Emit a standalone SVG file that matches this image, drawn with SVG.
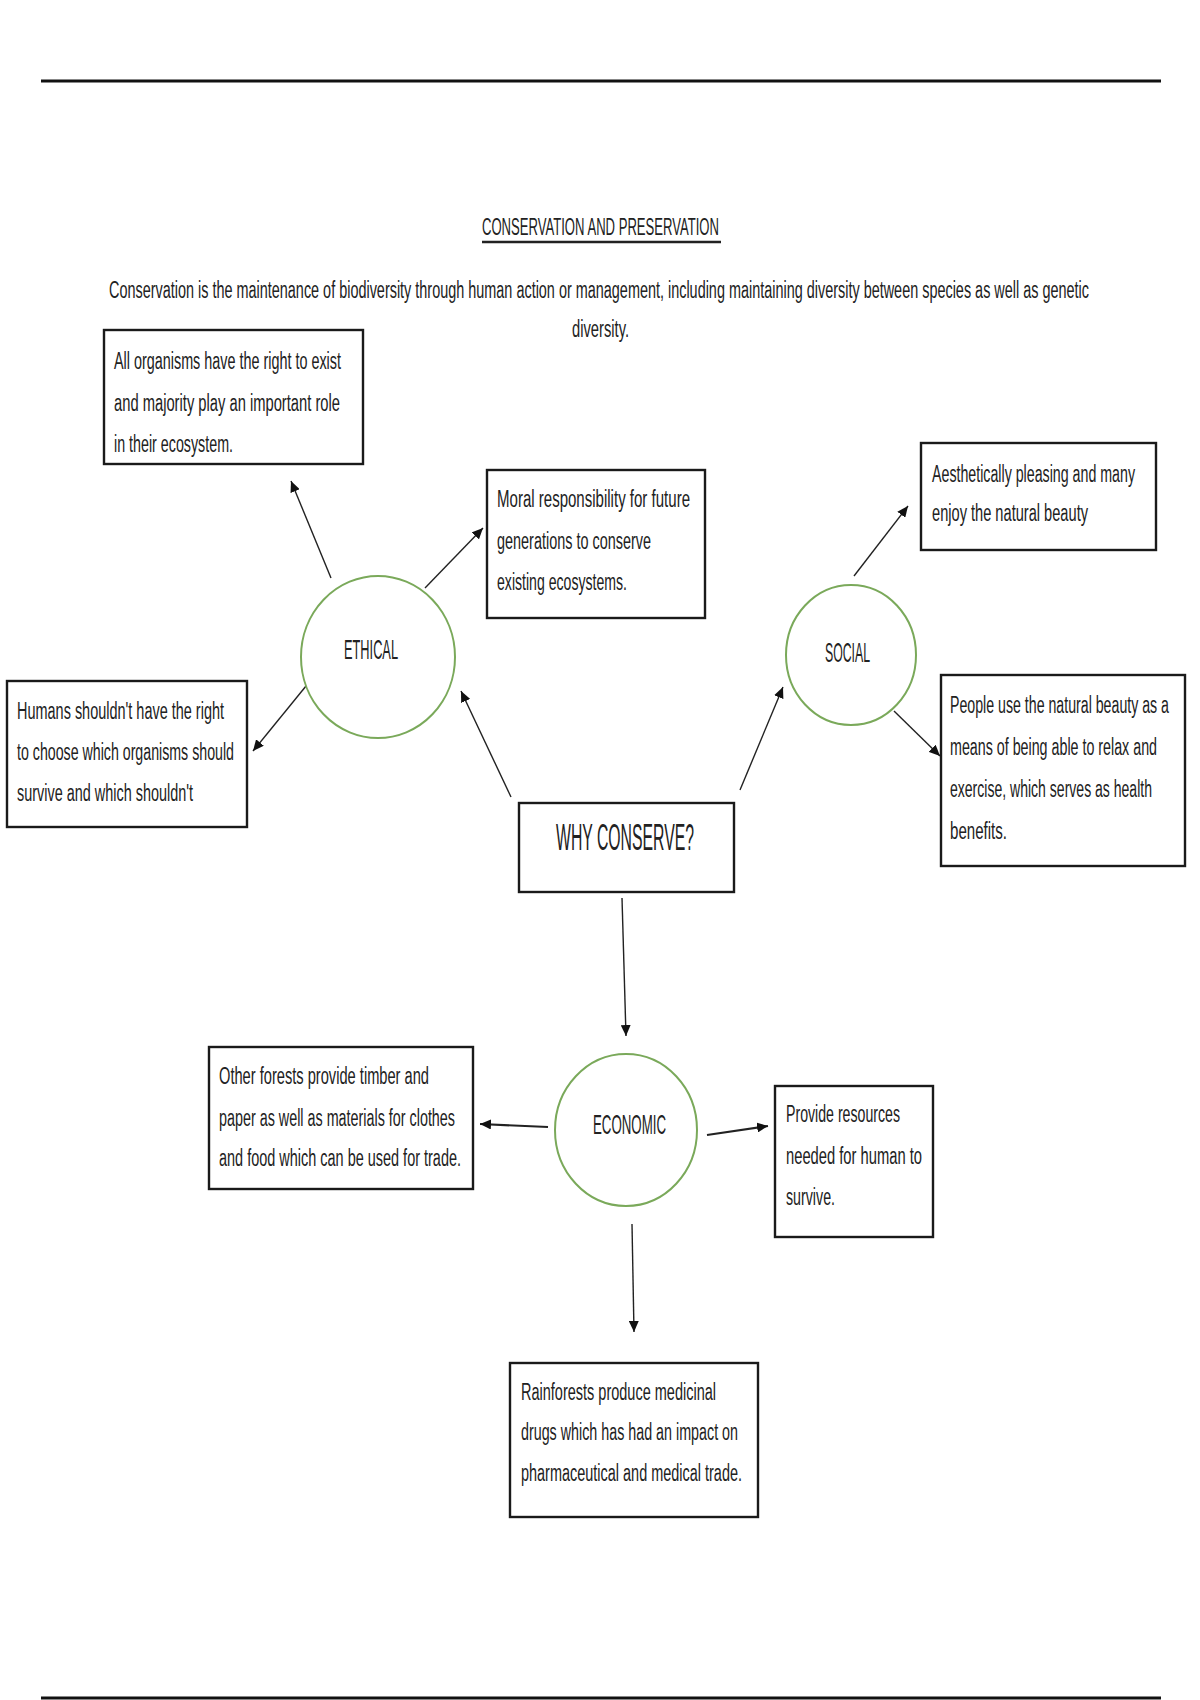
<svg xmlns="http://www.w3.org/2000/svg" width="1200" height="1700" viewBox="0 0 1200 1700">
<defs>
<style>
.t{font-family:"Liberation Sans",Arial,sans-serif;font-size:13.2px;fill:#222}
.lbl{font-size:15.5px}
.big{font-size:20px}
.box{fill:#fff;stroke:#1a1a1a;stroke-width:2.4}
.circ{fill:#fff;stroke:#7aa95a;stroke-width:2}
.rule{stroke:#111;stroke-width:3}
.con{stroke:#222;stroke-width:1.4;fill:none;marker-end:url(#ah)}
.thick{stroke-width:2.2}
</style>
<marker id="ah" markerUnits="userSpaceOnUse" markerWidth="11" markerHeight="10" refX="11" refY="5" orient="auto">
<path d="M0,0 L11,5 L0,10 z" fill="#111"/>
</marker>
</defs>
<rect width="1200" height="1700" fill="#fff"/>
<line class="rule" x1="41" y1="81" x2="1161" y2="81"/>
<line class="rule" x1="41" y1="1698" x2="1161" y2="1698"/>

<g id="title">
<text class="t" transform="translate(482,235) scale(1,1.8)" textLength="237" lengthAdjust="spacingAndGlyphs">CONSERVATION AND PRESERVATION</text>
<line x1="482" y1="242" x2="721" y2="242" stroke="#222" stroke-width="2.5"/>
<text class="t" transform="translate(109,298) scale(1,1.8)" textLength="980" lengthAdjust="spacingAndGlyphs">Conservation is the maintenance of biodiversity through human action or management, including maintaining diversity between species as well as genetic</text>
<text class="t" transform="translate(572,337) scale(1,1.8)" textLength="57" lengthAdjust="spacingAndGlyphs">diversity.</text>
</g>

<g id="connectors">
<line class="con" x1="331" y1="578" x2="291" y2="481"/>
<line class="con" x1="425" y1="588" x2="483" y2="528"/>
<line class="con" x1="315" y1="675" x2="253" y2="751"/>
<line class="con" x1="511" y1="797" x2="461" y2="691"/>
<line class="con" x1="740" y1="790" x2="783" y2="687"/>
<line class="con" x1="854" y1="576" x2="908" y2="506"/>
<line class="con" x1="894" y1="711" x2="940" y2="756"/>
<line class="con" x1="622" y1="898" x2="626" y2="1036"/>
<line class="con thick" x1="548" y1="1127" x2="480" y2="1124"/>
<line class="con thick" x1="707" y1="1135" x2="768" y2="1126"/>
<line class="con" x1="632" y1="1224" x2="634" y2="1332"/>
</g>

<g id="box-all-organisms">
<rect class="box" x="104" y="330" width="259" height="134"/>
<text class="t" transform="translate(114,369) scale(1,1.8)" textLength="227" lengthAdjust="spacingAndGlyphs">All organisms have the right to exist</text>
<text class="t" transform="translate(114,411) scale(1,1.8)" textLength="226" lengthAdjust="spacingAndGlyphs">and majority play an important role</text>
<text class="t" transform="translate(114,452) scale(1,1.8)" textLength="119" lengthAdjust="spacingAndGlyphs">in their ecosystem.</text>
</g>

<g id="box-moral">
<rect class="box" x="487" y="470" width="218" height="148"/>
<text class="t" transform="translate(497,507) scale(1,1.8)" textLength="193" lengthAdjust="spacingAndGlyphs">Moral responsibility for future</text>
<text class="t" transform="translate(497,549) scale(1,1.8)" textLength="154" lengthAdjust="spacingAndGlyphs">generations to conserve</text>
<text class="t" transform="translate(497,590) scale(1,1.8)" textLength="130" lengthAdjust="spacingAndGlyphs">existing ecosystems.</text>
</g>

<g id="ethical">
<ellipse class="circ" cx="378" cy="657" rx="77" ry="81"/>
<text class="t lbl" transform="translate(344,659) scale(1,1.8)" textLength="54" lengthAdjust="spacingAndGlyphs">ETHICAL</text>
</g>

<g id="box-humans">
<rect class="box" x="7" y="681" width="240" height="146"/>
<text class="t" transform="translate(17,719) scale(1,1.8)" textLength="207" lengthAdjust="spacingAndGlyphs">Humans shouldn't have the right</text>
<text class="t" transform="translate(17,760) scale(1,1.8)" textLength="217" lengthAdjust="spacingAndGlyphs">to choose which organisms should</text>
<text class="t" transform="translate(17,801) scale(1,1.8)" textLength="176" lengthAdjust="spacingAndGlyphs">survive and which shouldn't</text>
</g>

<g id="social">
<ellipse class="circ" cx="851" cy="655" rx="65" ry="70"/>
<text class="t lbl" transform="translate(825,662) scale(1,1.8)" textLength="45" lengthAdjust="spacingAndGlyphs">SOCIAL</text>
</g>

<g id="box-aesthetic">
<rect class="box" x="921" y="443" width="235" height="107"/>
<text class="t" transform="translate(932,482) scale(1,1.8)" textLength="203" lengthAdjust="spacingAndGlyphs">Aesthetically pleasing and many</text>
<text class="t" transform="translate(932,521) scale(1,1.8)" textLength="156" lengthAdjust="spacingAndGlyphs">enjoy the natural beauty</text>
</g>

<g id="box-people">
<rect class="box" x="941" y="675" width="244" height="191"/>
<text class="t" transform="translate(950,713) scale(1,1.8)" textLength="219" lengthAdjust="spacingAndGlyphs">People use the natural beauty as a</text>
<text class="t" transform="translate(950,755) scale(1,1.8)" textLength="207" lengthAdjust="spacingAndGlyphs">means of being able to relax and</text>
<text class="t" transform="translate(950,797) scale(1,1.8)" textLength="202" lengthAdjust="spacingAndGlyphs">exercise, which serves as health</text>
<text class="t" transform="translate(950,839) scale(1,1.8)" textLength="57" lengthAdjust="spacingAndGlyphs">benefits.</text>
</g>

<g id="why-conserve">
<rect class="box" x="519" y="803" width="215" height="89"/>
<text class="t big" transform="translate(556,850) scale(1,1.8)" textLength="138" lengthAdjust="spacingAndGlyphs">WHY CONSERVE?</text>
</g>

<g id="economic">
<ellipse class="circ" cx="626" cy="1130" rx="71" ry="76"/>
<text class="t lbl" transform="translate(593,1134) scale(1,1.8)" textLength="73" lengthAdjust="spacingAndGlyphs">ECONOMIC</text>
</g>

<g id="box-forests">
<rect class="box" x="209" y="1047" width="264" height="142"/>
<text class="t" transform="translate(219,1084) scale(1,1.8)" textLength="210" lengthAdjust="spacingAndGlyphs">Other forests provide timber and</text>
<text class="t" transform="translate(219,1126) scale(1,1.8)" textLength="236" lengthAdjust="spacingAndGlyphs">paper as well as materials for clothes</text>
<text class="t" transform="translate(219,1166) scale(1,1.8)" textLength="242" lengthAdjust="spacingAndGlyphs">and food which can be used for trade.</text>
</g>

<g id="box-resources">
<rect class="box" x="775" y="1086" width="158" height="151"/>
<text class="t" transform="translate(786,1122) scale(1,1.8)" textLength="114" lengthAdjust="spacingAndGlyphs">Provide resources</text>
<text class="t" transform="translate(786,1164) scale(1,1.8)" textLength="136" lengthAdjust="spacingAndGlyphs">needed for human to</text>
<text class="t" transform="translate(786,1205) scale(1,1.8)" textLength="49" lengthAdjust="spacingAndGlyphs">survive.</text>
</g>

<g id="box-rainforests">
<rect class="box" x="510" y="1363" width="248" height="154"/>
<text class="t" transform="translate(521,1400) scale(1,1.8)" textLength="195" lengthAdjust="spacingAndGlyphs">Rainforests produce medicinal</text>
<text class="t" transform="translate(521,1440) scale(1,1.8)" textLength="217" lengthAdjust="spacingAndGlyphs">drugs which has had an impact on</text>
<text class="t" transform="translate(521,1481) scale(1,1.8)" textLength="221" lengthAdjust="spacingAndGlyphs">pharmaceutical and medical trade.</text>
</g>
</svg>
